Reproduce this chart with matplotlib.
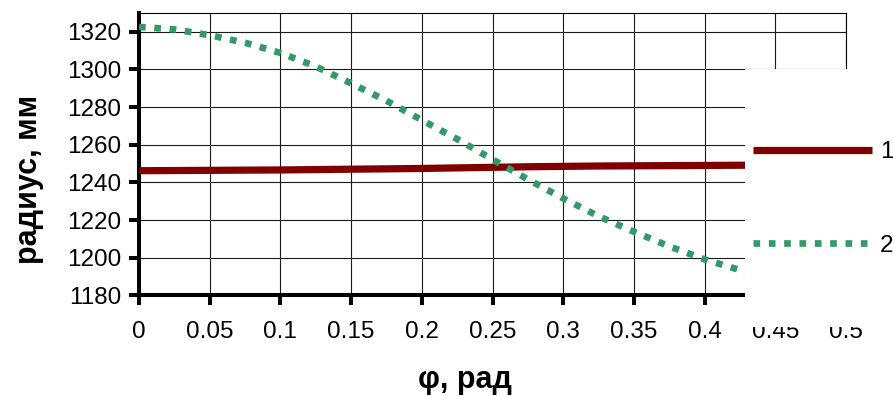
import numpy as np
import matplotlib.pyplot as plt
from matplotlib.patches import Rectangle

plt.rcParams['font.family'] = ['Liberation Sans', 'DejaVu Sans']

# angle, rad
phi = [0.0, 0.025, 0.05, 0.075, 0.1, 0.125, 0.15, 0.175, 0.2, 0.225,
       0.25, 0.275, 0.3, 0.325, 0.35, 0.375, 0.4, 0.425, 0.45]
# curve 1: radius, mm
radius_1 = [1246.2, 1246.3, 1246.4, 1246.5, 1246.6, 1246.8, 1247.0, 1247.2, 1247.4, 1247.7,
            1248.0, 1248.3, 1248.5, 1248.7, 1248.8, 1248.9, 1249.0, 1249.1, 1249.2]
# curve 2: radius, mm
radius_2 = [1322.6, 1321.3, 1318.2, 1314.2, 1308.8, 1301.6, 1292.6, 1283.4, 1273.1, 1263.0,
            1252.2, 1241.6, 1231.5, 1222.0, 1213.8, 1206.0, 1199.1, 1193.4, 1189.0]

x_ticks = [0, 0.05, 0.1, 0.15, 0.2, 0.25, 0.3, 0.35, 0.4, 0.45, 0.5]
x_tick_labels = ['0', '0.05', '0.1', '0.15', '0.2', '0.25', '0.3', '0.35', '0.4', '0.45', '0.5']
y_ticks = [1180, 1200, 1220, 1240, 1260, 1280, 1300, 1320]

fig = plt.figure(figsize=(8.93, 3.96), dpi=100)
ax = fig.add_axes([139 / 893, 1 - 295.3 / 396, (846 - 139) / 893, (295.3 - 13) / 396])

line1, = ax.plot(phi, radius_1, color='#800000', lw=5.2, solid_capstyle='butt', label='1', zorder=3)
line2, = ax.plot(phi, radius_2, color='#339966', lw=4.8, linestyle=(0, (1, 1.3)),
                 dash_capstyle='butt', label='2', zorder=3)

ax.set_xlim(0, 0.5)
ax.set_ylim(1180, 1330)
ax.set_xticks(x_ticks)
ax.set_xticklabels(x_tick_labels)
ax.set_yticks(y_ticks)
ax.grid(True, color='#1a1a1a', lw=0.8)
ax.set_axisbelow(True)

for side in ['left', 'bottom']:
    ax.spines[side].set_linewidth(2.9)
for side in ['top', 'right']:
    ax.spines[side].set_linewidth(0.8)

ax.tick_params(axis='both', direction='out', length=7.3, width=2.9, labelsize=17.5)
ax.tick_params(axis='x', pad=11.5)
ax.tick_params(axis='y', pad=5.5)

ax.set_ylabel('радиус, мм', fontsize=22, fontweight='bold')
ax.yaxis.set_label_coords((44 - 139) / 707, (295.3 - 179) / 282.3)
ax.set_xlabel('φ, рад', fontsize=22, fontweight='bold')
ax.xaxis.set_label_coords((465 - 139) / 707, (295.3 - 365) / 282.3)

# white legend area covering the right part of the plot
box = Rectangle((745 / 893, 1 - 327 / 396), (893 - 745) / 893, (327 - 69) / 396,
                transform=fig.transFigure, facecolor='white', edgecolor='none',
                clip_on=False, zorder=4.5)
ax.add_patch(box)

leg = ax.legend(handles=[line1, line2], loc='center left',
                bbox_to_anchor=(753 / 893, 1 - 199 / 396), bbox_transform=fig.transFigure,
                frameon=False, fontsize=17.5, handlelength=4.9, handletextpad=0.33,
                labelspacing=2.95, borderpad=0, borderaxespad=0)
leg.set_zorder(5)

fig.savefig('out.png', dpi=100)
